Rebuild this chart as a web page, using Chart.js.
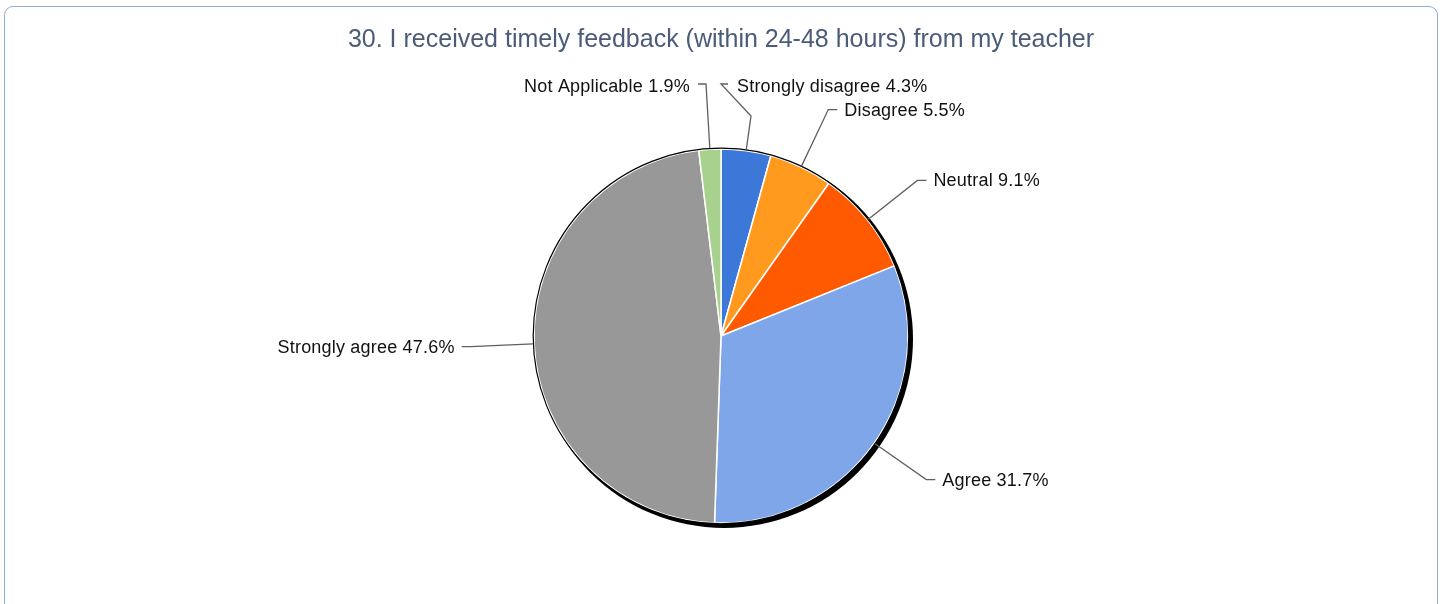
<!DOCTYPE html>
<html>
<head>
<meta charset="utf-8">
<script src="https://cdn.jsdelivr.net/npm/chart.js@4"></script>
<style>
  body { margin: 0; background: #fff; }
  #wrap { position: relative; width: 1442px; height: 604px; overflow: hidden; }
  #frame { position: absolute; left: 4px; top: 6px; width: 1432px; height: 620px;
           border: 1.5px solid #8eacd8; border-radius: 9px; }
  #chart { position: absolute; left: 0; top: 0; }
</style>
</head>
<body>
<div id="wrap">
  <div id="frame"></div>
  <canvas id="chart" width="1442" height="604"></canvas>
</div>
<script>
const title = "30. I received timely feedback (within 24-48 hours) from my teacher";
const categories = ["Strongly disagree", "Disagree", "Neutral", "Agree", "Strongly agree", "Not Applicable"];
const percents = [4.3, 5.5, 9.1, 31.7, 47.6, 1.9];
const colors = ["#3c78d8", "#ff9a1f", "#ff5a00", "#7ea6e8", "#989898", "#a8d18e"];

// hand-placed leader paths for the two crowded labels at the top (offsets from pie centre)
const bends = {
    0: { pts: [[30, -220], [0, -252], [7, -252]], text: [16, -250], align: "left" },
    5: { pts: [[-15, -252], [-23, -252]], text: [-31, -250], align: "right" }
};

const shadow = {
    id: "shadow",
    beforeDatasetsDraw(chart) {
        const arc = chart.getDatasetMeta(0).data[0];
        const ctx = chart.ctx;
        ctx.save();
        ctx.fillStyle = "#000";
        ctx.beginPath();
        ctx.arc(arc.x + 3, arc.y + 3, arc.outerRadius + 2, 0, Math.PI * 2);
        ctx.fill();
        ctx.restore();
    },
    afterDatasetsDraw(chart) {
        const meta = chart.getDatasetMeta(0);
        const ctx = chart.ctx;
        const c = meta.data[0];
        ctx.save();
        ctx.strokeStyle = "#000";
        ctx.lineWidth = 1.2;
        ctx.beginPath();
        ctx.arc(c.x, c.y, c.outerRadius + 0.8, 0, Math.PI * 2);
        ctx.stroke();

        ctx.font = "18px 'Liberation Sans', Arial, sans-serif";
        ctx.letterSpacing = "0.2px";
        ctx.textBaseline = "middle";
        ctx.lineWidth = 1.3;
        ctx.strokeStyle = "#5f5f5f";
        ctx.fillStyle = "#111";
        meta.data.forEach((arc, i) => {
            const mid = (arc.startAngle + arc.endAngle) / 2;
            const r = arc.outerRadius;
            const ax = arc.x + Math.cos(mid) * (r + 1);
            const ay = arc.y + Math.sin(mid) * (r + 1);
            const label = categories[i] + " " + percents[i].toFixed(1) + "%";
            let pts, tx, ty, align;
            if (bends[i]) {
                const b = bends[i];
                pts = b.pts.map(p => [arc.x + p[0], arc.y + p[1]]);
                tx = arc.x + b.text[0];
                ty = arc.y + b.text[1] + 1;
                align = b.align;
            } else {
                const ex = arc.x + Math.cos(mid) * r * 1.34;
                const ey = arc.y + Math.sin(mid) * r * 1.34;
                const side = Math.cos(mid) >= 0 ? 1 : -1;
                pts = [[ex, ey], [ex + side * 9, ey]];
                tx = ex + side * 16;
                ty = ey + 1;
                align = side > 0 ? "left" : "right";
            }
            ctx.beginPath();
            ctx.moveTo(ax, ay);
            pts.forEach(p => ctx.lineTo(p[0], p[1]));
            ctx.stroke();
            ctx.textAlign = align;
            ctx.fillText(label, tx, ty);
        });
        ctx.restore();
    }
};

new Chart("chart", {
    type: "pie",
    data: {
        labels: categories,
        datasets: [{
            data: percents,
            backgroundColor: colors,
            borderColor: "#fff",
            borderWidth: 1.5
        }]
    },
    options: {
        responsive: false,
        animation: false,
        radius: 187,
        layout: { padding: 0 },
        plugins: {
            legend: { display: false },
            tooltip: { enabled: false },
            title: {
                display: true,
                text: title,
                color: "#4b5c78",
                font: { family: "'Liberation Sans', Arial, sans-serif", size: 25, weight: "normal" },
                padding: { top: 25, bottom: 13 }
            }
        }
    },
    plugins: [shadow]
});
</script>
</body>
</html>
